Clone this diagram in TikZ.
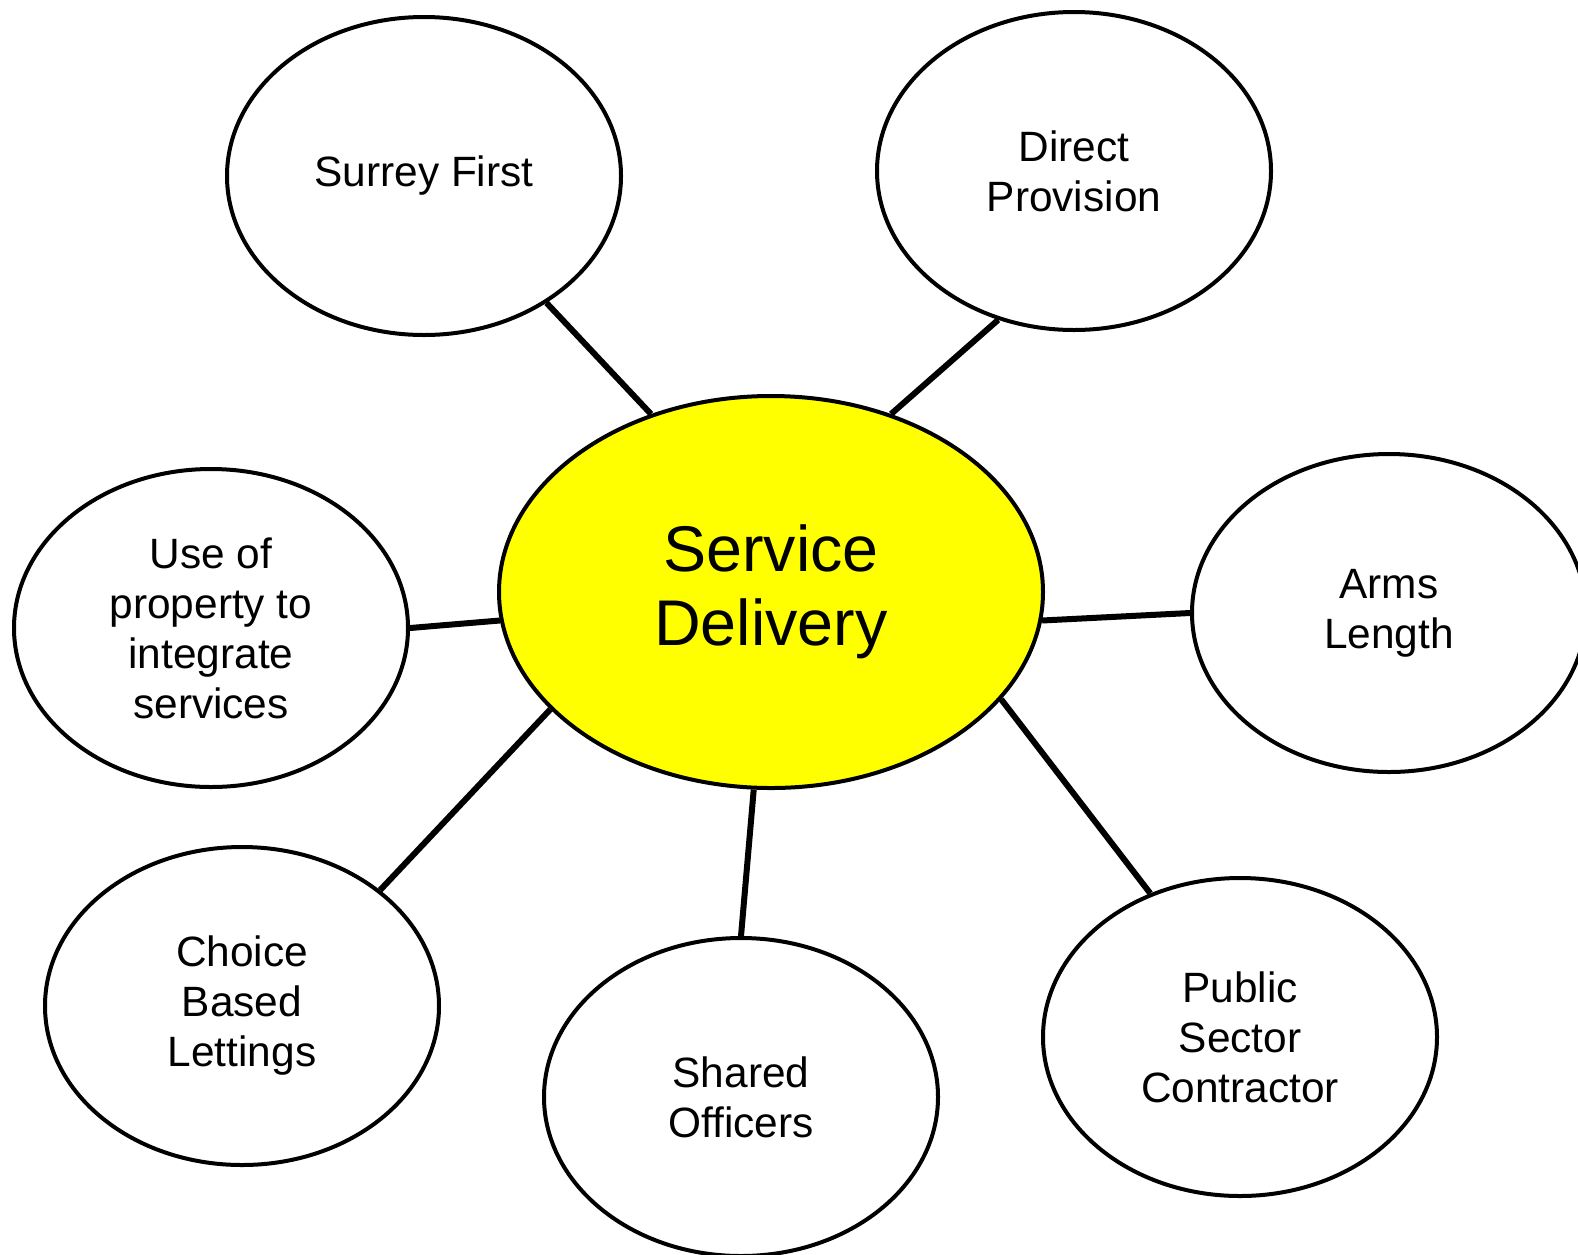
\documentclass[tikz,border=0pt]{standalone}
\usepackage{fontspec}
\setmainfont{Liberation Sans}
\usetikzlibrary{shapes.geometric}
\definecolor{hubyellow}{RGB}{255,255,0}

\begin{document}
\begin{tikzpicture}[x=0.5pt,y=-0.5pt,
  idea/.style={draw, ellipse, line width=2pt, minimum width=197pt, minimum height=159pt, inner sep=0pt, align=center, font=\fontsize{21.2}{25}\selectfont},
  hub/.style={idea, fill=hubyellow, minimum width=272pt, minimum height=196pt, font=\fontsize{32.3}{37}\selectfont},
  link/.style={line width=3pt}]

\useasboundingbox (0,0) rectangle (1578,1254);

\node[hub] (Delivery) at (771,592) {Service\\Delivery};

\node[idea] (Surrey) at (424,176) {Surrey First};
\node[idea] (Direct) at (1074,171) {Direct\\Provision};
\node[idea] (Arms) at (1389,613) {Arms\\Length};
\node[idea] (Property) at (211,628) {Use of\\property to\\integrate\\services};
\node[idea] (Choice) at (242,1006) {Choice\\Based\\Lettings};
\node[idea] (Shared) at (741,1097) {Shared\\Officers};
\node[idea] (Public) at (1240,1037) {Public\\Sector\\Contractor};

\draw[link] (Delivery.124) -- (Surrey.-46);
\draw[link] (Delivery.56) -- (Direct.243);
\draw[link] (Delivery.-6) -- (Arms.180);
\draw[link] (Delivery.186) -- (Property.0);
\draw[link] (Delivery.-25) -- (Public.122);
\draw[link] (Delivery.265) -- (Shared.90);
\draw[link] (Delivery.208) -- (Choice.40);

\end{tikzpicture}
\end{document}
